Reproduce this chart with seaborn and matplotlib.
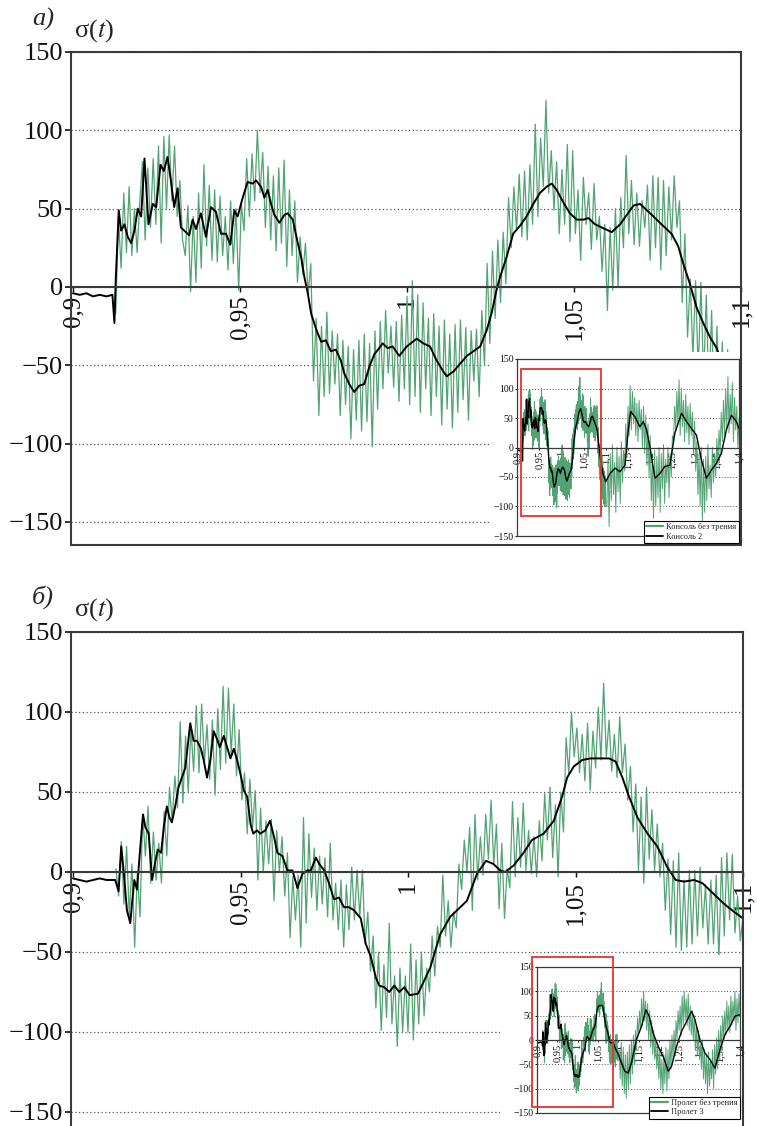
import numpy as np
import matplotlib
matplotlib.use("Agg")
import matplotlib.pyplot as plt
from matplotlib.patches import Rectangle
from matplotlib.lines import Line2D
import seaborn as sns

sns.set_theme(style="white")
plt.rcParams["font.family"] = ["Liberation Serif", "DejaVu Serif"]
plt.rcParams["mathtext.fontset"] = "stix"

# ---------- Ticks ----------
y_ticks = [-150, -100, -50, 0, 50, 100, 150]
y_labels = ["\u2212150", "\u2212100", "\u221250", "0", "50", "100", "150"]
x_ticks_main = [0.9, 0.95, 1.0, 1.05, 1.1]
x_labels_main = ["0,9", "0,95", "1", "1,05", "1,1"]
x_ticks_inset = [0.9, 0.95, 1.0, 1.05, 1.1, 1.15, 1.2, 1.25, 1.3, 1.35, 1.4]
x_labels_inset = ["0,9", "0,95", "1", "1,05", "1,1", "1,15", "1,2", "1,25", "1,3", "1,35", "1,4"]

# ---------- Panel a: green (no friction), sampled every 0.0008 from 0.9128 ----------
green_t0 = 0.9128
green_dt = 0.0008
green_a = [
    -17, 45, 12, 60, 22, 64, 20, 50, 22, 55,
    80, 30, 76, 38, 82, 40, 90, 28, 96, 50,
    97, 55, 90, 45, 68, 30, 20, 52, -3, 45,
    3, 60, 12, 78, 26, 65, 17, 62, 16, 58,
    20, 45, 11, 55, 15, 50, -2, 53, 36, 82,
    45, 85, 55, 100, 60, 86, 38, 77, 30, 71,
    23, 76, 28, 81, 13, 62, 20, 55, 3, 32,
    8, 28, -5, 15, -60, -20, -82, -25, -70, -16,
    -68, -28, -62, -30, -82, -34, -75, -38, -97, -40,
    -85, -34, -92, -30, -86, -36, -102, -28, -78, -22,
    -65, -15, -55, -25, -64, -22, -73, -18, -65,
    -6, -75, 4, -70, -5, -80, -10, -65, -20, -82, -17,
    -70, -25, -88, -21, -78, -30, -90, -24, -80, -21,
    -72, -26, -85, -28, -60, -27, -70, -15, -50, 15,
    -36, 23, -20, 30, -10, 35, 2, 57, 25, 64,
    36, 72, 32, 74, 30, 78, 40, 104, 45, 95,
    64, 119, 60, 87, 49, 80, 34, 75, 40, 91,
    29, 87, 34, 62, 17, 70, 40, 60, 24, 66,
    30, 45, 10, 40, -15, 38, -2, 50, 0, 57,
    25, 84, 34, 68, 27, 60, 26, 55, 38, 65,
    17, 71, 25, 70, 11, 68, 20, 64, 30, 71,
    38, 55, -10, 34, -32, 5, -45, 4, -55, 3,
    -60, -5, -70, -15, -80, -25, -88, -35, -95, -40,
    -100, -45, -95, -50, -100,
]

# Panel a: black (Консоль 2)
black_a_t = [
    0.9000, 0.9020, 0.9040, 0.9060, 0.9080, 0.9100, 0.9118, 0.9124, 0.9128, 0.9137,
    0.9144, 0.9154, 0.9164, 0.9174, 0.9184, 0.9194, 0.9204, 0.9214, 0.9226, 0.9239,
    0.9249, 0.9262, 0.9272, 0.9283, 0.9293, 0.9303, 0.9313, 0.9323, 0.9338, 0.9348,
    0.9358, 0.9368, 0.9383, 0.9398, 0.9413, 0.9428, 0.9443, 0.9458, 0.9471, 0.9483,
    0.9493, 0.9508, 0.9523, 0.9538, 0.9548, 0.9563, 0.9573, 0.9583, 0.9593, 0.9603,
    0.9618, 0.9633, 0.9643, 0.9658, 0.9673, 0.9683, 0.9693, 0.9703, 0.9713, 0.9728,
    0.9743, 0.9757, 0.9772, 0.9787, 0.9802, 0.9812, 0.9827, 0.9842, 0.9857, 0.9872,
    0.9887, 0.9902, 0.9917, 0.9927, 0.9942, 0.9957, 0.9977, 0.9999, 1.0029, 1.0049,
    1.0069, 1.0089, 1.0109, 1.0119, 1.0139, 1.0159, 1.0179, 1.0199, 1.0219, 1.0238,
    1.0253, 1.0268, 1.0278, 1.0298, 1.0318, 1.0338, 1.0358, 1.0378, 1.0398, 1.0418,
    1.0433, 1.0448, 1.0468, 1.0488, 1.0508, 1.0528, 1.0543, 1.0563, 1.0583, 1.0613,
    1.0638, 1.0658, 1.0678, 1.0698, 1.0718, 1.0738, 1.0767, 1.0792, 1.0812, 1.0827,
    1.0847, 1.0867, 1.0887, 1.0907, 1.0927, 1.0937, 1.0970, 1.1000,
]
black_a_v = [
    -4, -5, -4, -6, -5, -6, -5, -23, 5, 49,
    36, 40, 32, 28, 36, 50, 45, 82, 40, 53,
    51, 78, 74, 83, 68, 51, 63, 38, 35, 33,
    43, 37, 47, 32, 51, 48, 34, 34, 27, 49,
    45, 57, 67, 66, 68, 64, 57, 62, 53, 46,
    41, 46, 47, 43, 28, 19, 6, -4, -17, -27,
    -35, -34, -41, -40, -47, -55, -62, -67, -63, -62,
    -51, -43, -39, -36, -39, -38, -44, -38, -33, -36,
    -38, -47, -54, -57, -54, -49, -44, -41, -38, -28,
    -17, -2, 6, 19, 34, 39, 45, 53, 60, 64,
    66, 62, 54, 47, 43, 43, 44, 40, 38, 35,
    40, 46, 52, 53, 49, 45, 39, 34, 26, 15,
    2, -13, -23, -32, -39, -45, -52, -58,
]

# ---------- Panel b ----------
green_b = [
    2, -15, 19, -20, 16, -28, 5, -47, 0, -28,
    36, 10, 41, -7, 25, -5, 18, -7, 38, 10,
    53, 32, 60, 40, 94, 43, 85, 50, 90, 63,
    104, 62, 105, 68, 92, 58, 95, 48, 102, 64,
    116, 68, 115, 74, 105, 60, 89, 45, 62, 24,
    58, 28, 51, -5, 40, 0, 32, 5, 33, -18,
    26, 0, 22, -15, 12, -41, -3, -30, -2, -47,
    34, -32, 24, -16, 15, -24, 10, -20, 9, -28,
    18, -30, -7, -36, -5, -47, -8, -36, 3, -30,
    1, -28, 1, -45, -25, -62, -40, -85, -50, -99,
    -58, -91, -32, -95, -65, -109, -60, -100, -65,
    -100, -45, -105, -55, -95, -50, -90, -60, -75, -40, -65,
    -34, -47, -2, -40, -18, -47, -25, -35, 5, -11,
    20, 0, 28, -24, 36, -5, 22, -2, 36, 8,
    45, 5, 30, -23, 18, -29, 2, -10, 44, -3,
    34, 3, 43, 1, 26, -1, 22, -3, 32, 7,
    49, 20, 53, 9, 42, -3, 50, 25, 84, 61,
    100, 72, 90, 62, 86, 57, 93, 51, 88, 65,
    103, 70, 118, 72, 95, 63, 86, 59, 97, 62,
    80, 45, 66, 25, 55, 1, 47, -7, 53, 8,
    39, 1, 30, -3, 18, -24, 8, -39, 7, -47,
    12, -49, -5, -47, 1, -45, 1, -40, 3, -35,
    -8, -45, -5, -45, -2, -55, 9, -40, 12, -30,
    11, -38, -15, -43, -28,
]

black_b_t = [
    0.9000, 0.9020, 0.9040, 0.9060, 0.9080, 0.9100, 0.9120, 0.9126, 0.9136, 0.9144,
    0.9151, 0.9161, 0.9171, 0.9176, 0.9183, 0.9191, 0.9201, 0.9209, 0.9216, 0.9226,
    0.9236, 0.9246, 0.9253, 0.9263, 0.9271, 0.9280, 0.9288, 0.9295, 0.9305, 0.9315,
    0.9325, 0.9335, 0.9342, 0.9350, 0.9360, 0.9370, 0.9382, 0.9390, 0.9400, 0.9410,
    0.9420, 0.9430, 0.9438, 0.9450, 0.9460, 0.9470, 0.9480, 0.9490, 0.9500, 0.9510,
    0.9520, 0.9530, 0.9538, 0.9549, 0.9559, 0.9574, 0.9588, 0.9600, 0.9610, 0.9625,
    0.9640, 0.9655, 0.9670, 0.9685, 0.9700, 0.9710, 0.9725, 0.9735, 0.9750, 0.9764,
    0.9779, 0.9794, 0.9809, 0.9824, 0.9839, 0.9859, 0.9874, 0.9889, 0.9904, 0.9914,
    0.9929, 0.9944, 0.9959, 0.9974, 0.9989, 1.0005, 1.0030, 1.0066, 1.0096, 1.0126,
    1.0146, 1.0176, 1.0206, 1.0233, 1.0255, 1.0275, 1.0290, 1.0315, 1.0345, 1.0370,
    1.0405, 1.0435, 1.0460, 1.0475, 1.0495, 1.0520, 1.0545, 1.0570, 1.0600, 1.0620,
    1.0640, 1.0660, 1.0685, 1.0715, 1.0744, 1.0774, 1.0799, 1.0824, 1.0854, 1.0879,
    1.0914, 1.0944, 1.0974, 1.1000,
]
black_b_v = [
    -4, -5, -6, -5, -4, -5, -5, -5, -12, 16,
    1, -24, -32, -20, -5, -11, 16, 36, 28, 24,
    -5, 7, 14, 12, 28, 41, 34, 31, 41, 53,
    59, 65, 78, 93, 82, 82, 77, 70, 59, 70,
    88, 83, 78, 85, 78, 71, 77, 70, 61, 51,
    47, 30, 24, 26, 24, 26, 32, 22, 12, 10,
    1, 1, -10, -1, 1, 1, 9, 5, 1, -7,
    -17, -16, -22, -22, -24, -29, -45, -53, -66, -71,
    -72, -75, -71, -75, -72, -77, -76, -60, -39, -28,
    -24, -18, -1, 7, 5, 1, 0, 4, 12, 20,
    24, 32, 47, 59, 66, 70, 71, 71, 71, 69,
    59, 47, 34, 24, 16, 3, -5, -6, -5, -7,
    -14, -20, -25, -29,
]

# ---------- Inset continuation 1.1 .. 1.4 ----------
ext_t0 = 1.1025
ext_dt = 0.0025
ext_green_a = [
    -100, -20, -134, -10, -90, 5, -80, -25, -110, 0, -75, -15, -95, 10, -60, -5,
    -40, 40, -10, 70, 20, 105, 30, 95,
    40, 85, 20, 75, 10, 80, 30, 65, 0, 70, -10, 55, -30, 40, -50, 20,
    -90, -20, -120, -5, -100, -15, -85, 0, -110, -10, -70, 5, -95, -20, -60, 0, -85, -10, -50, 20,
    10, 70, 30, 95, 40, 115, 20, 100, 35, 80, 10, 90, 25, 70, 5, 75, 20, 60, -10, 45,
    -40, 10, -80, -10, -100, 0, -125, -20, -110, -15, -90, 5, -70, -30, -85, 0, -60, -10, -50, 15,
    -30, 30, -10, 60, 10, 80, 20, 100, 30, 120, 25, 90, 40, 110, 10, 85, 30, 70, 0, 50,
]
ext_black_a_t = [
    1.1096, 1.1208, 1.1320, 1.1433, 1.1507, 1.1560, 1.1657, 1.1769, 1.1844, 1.1919,
    1.1994, 1.2106, 1.2219, 1.2331, 1.2443, 1.2555, 1.2705, 1.2817, 1.2930, 1.3042,
    1.3154, 1.3266, 1.3379, 1.3491, 1.3603, 1.3716, 1.3828, 1.3940, 1.4000,
]
ext_black_a_v = [
    -44, -35, -41, -30, 30, 61, 52, 35, 44, 30,
    1, -52, -44, -32, -30, 24, 58, 44, 32, 21,
    -21, -52, -38, -27, -10, 30, 55, 44, 32,
]
ext_green_b = [
    -20, -80, -5, -95, -15, -110, -30, -120, -25, -100, -10, -90, 0, -70, 10, -50,
    20, -20, 45, 10, 60, 20, 85, 30, 100, 40, 80, 20, 75, 0, 60, -15, 40, -30, 20, -40,
    0, -60, -10, -80, -20, -100, -40, -110, -30, -90, -15, -105, -20, -80, 0, -60, 10, -40, 20, -30,
    40, 0, 60, 20, 70, 10, 90, 30, 100, 40, 85, 30, 95, 20, 70, 10, 60, 0, 50, -20, 30, -30, 20, -40,
    -10, -60, 0, -80, -20, -90, -30, -110, -25, -95, -40, -80, -20, -100, -10, -70, 5, -60, 20, -40,
    30, -20, 50, 0, 60, 10, 80, 20, 70, 15, 90, 30, 80, 40, 100, 20, 85, 35, 95, 50,
]
ext_black_b_t = [
    1.1081, 1.1163, 1.1245, 1.1327, 1.1451, 1.1574, 1.1681, 1.1763, 1.1862, 1.1985,
    1.2109, 1.2232, 1.2314, 1.2438, 1.2561, 1.2684, 1.2808, 1.2890, 1.3013, 1.3137,
    1.3260, 1.3383, 1.3507, 1.3630, 1.3753, 1.3877, 1.4000,
]
ext_black_b_v = [
    -47, -64, -68, -47, 1, 28, 62, 49, 14, -13,
    -34, -64, -54, -13, 18, 38, 59, 42, 1, -27,
    -40, -58, -20, 11, 28, 49, 52,
]

labels_a = ["Консоль без трения", "Консоль 2"]
labels_b = ["Пролет без трения", "Пролет 3"]

GREEN = "#52a374"
SPINE = "#3a3a3a"
RED = "#e8322f"

# ---------- Layout helpers (pixel boxes) ----------
W, H = 757, 1126


def px_rect(x0, y0, x1, y1):
    return [x0 / W, 1 - y1 / H, (x1 - x0) / W, (y1 - y0) / H]


def green_time(values, t0, dt):
    return t0 + dt * np.arange(len(values))


def style_axes(ax, xlim, ylim, xticks, xlabels, ysize, xsize, lw, grid_lw):
    # move the x axis onto the zero line first (this resets the ticks)
    ax.spines["bottom"].set_position(("data", 0))
    ax.set_xlim(*xlim)
    ax.set_ylim(*ylim)
    ax.set_yticks(y_ticks)
    ax.set_yticklabels(y_labels)
    ax.set_xticks(xticks)
    ax.set_xticklabels(xlabels)
    for s in ax.spines.values():
        s.set_color(SPINE)
        s.set_linewidth(lw)
    ax.tick_params(axis="y", left=True, direction="out", length=ysize * 0.22,
                   width=lw * 0.8, labelsize=ysize, pad=1.5, colors="#111111")
    ax.tick_params(axis="x", bottom=True, direction="out", length=xsize * 0.2,
                   width=lw * 0.7, labelsize=xsize, pad=xsize * 0.15, colors="#111111",
                   labelrotation=90)
    ax.yaxis.grid(True, linestyle=(0, (1, 2)), color="#555555", linewidth=grid_lw)
    ax.xaxis.grid(False)
    ax.set_xlabel("")
    ax.set_ylabel("")
    # frame bottom (the bottom spine sits on the zero line)
    ax.plot([0, 1], [0, 0], transform=ax.transAxes, color=SPINE, lw=lw, clip_on=False, zorder=3)


fig = plt.figure(figsize=(W / 100, H / 100), dpi=100)


def draw_panel(box, ylim, g_vals, b_t, b_v, ext_g, ext_bt, ext_bv,
               inset_box, white_box, red_box, legend_labels, letter, letter_y, sigma_y):
    ax = fig.add_axes(px_rect(*box))
    g_t = green_time(g_vals, green_t0, green_dt)
    sns.lineplot(x=g_t, y=g_vals, ax=ax, color=GREEN, linewidth=0.9, estimator=None,
                 sort=False, legend=False)
    sns.lineplot(x=b_t, y=b_v, ax=ax, color="black", linewidth=1.4, estimator=None,
                 sort=False, legend=False)
    style_axes(ax, (0.8994, 1.1), ylim, x_ticks_main, x_labels_main, 19, 18, 1.5, 0.9)

    # white patch behind the inset
    wx0, wy0, wx1, wy1 = white_box
    fig.add_artist(Rectangle((wx0 / W, 1 - wy1 / H), (wx1 - wx0) / W, (wy1 - wy0) / H,
                             transform=fig.transFigure, facecolor="white",
                             edgecolor="none", zorder=3))

    ins = fig.add_axes(px_rect(*inset_box))
    ins.set_zorder(5)
    full_gt = np.concatenate([g_t, green_time(ext_g, ext_t0, ext_dt)])
    full_gv = np.concatenate([g_vals, ext_g])
    full_bt = np.concatenate([b_t, ext_bt])
    full_bv = np.concatenate([b_v, ext_bv])
    sns.lineplot(x=full_gt, y=full_gv, ax=ins, color=GREEN, linewidth=0.7, estimator=None,
                 sort=False, legend=False)
    sns.lineplot(x=full_bt, y=full_bv, ax=ins, color="black", linewidth=1.0, estimator=None,
                 sort=False, legend=False)
    style_axes(ins, (0.9, 1.4), (-150, 150), x_ticks_inset, x_labels_inset, 7, 7.5, 0.9, 0.7)
    ins.tick_params(axis="y", pad=1)

    rx0, ry0, rx1, ry1 = red_box
    ins.add_patch(Rectangle((rx0, ry0), rx1 - rx0, ry1 - ry0, fill=False,
                            edgecolor=RED, linewidth=1.3, clip_on=False, zorder=10))

    handles = [Line2D([], [], color=GREEN, lw=1.6), Line2D([], [], color="black", lw=1.3)]
    leg = ins.legend(handles, legend_labels, loc="lower right", bbox_to_anchor=(1.0, -0.04),
                     fontsize=6, frameon=True, fancybox=False, edgecolor="black",
                     framealpha=1, handlelength=2.0, borderpad=0.3, labelspacing=0.15,
                     handletextpad=0.4, borderaxespad=0)
    leg.get_frame().set_linewidth(0.8)
    leg.set_zorder(12)

    fig.text(32 / W, 1 - letter_y / H, letter, fontsize=19, style="italic",
             ha="left", va="center")
    fig.text(74 / W, 1 - sigma_y / H, "σ($t$)", fontsize=19, ha="left", va="center")


# =========================================================
# Panel a
# =========================================================
draw_panel((71, 52, 741, 545), (-164.7, 150), green_a, black_a_t, black_a_v,
           ext_green_a, ext_black_a_t, ext_black_a_v,
           (517, 359, 739, 536), (489, 352, 739.5, 543.5),
           (0.909, -116, 1.089, 133), labels_a, "a)", 19, 31)

# =========================================================
# Panel b
# =========================================================
draw_panel((71, 632, 743, 1136), (-165, 150), green_b, black_b_t, black_b_v,
           ext_green_b, ext_black_b_t, ext_black_b_v,
           (537, 967, 740, 1113), (500, 955, 742, 1126),
           (0.888, -138, 1.087, 170), labels_b, "б)", 597, 610)

fig.savefig("out.png", dpi=100)
